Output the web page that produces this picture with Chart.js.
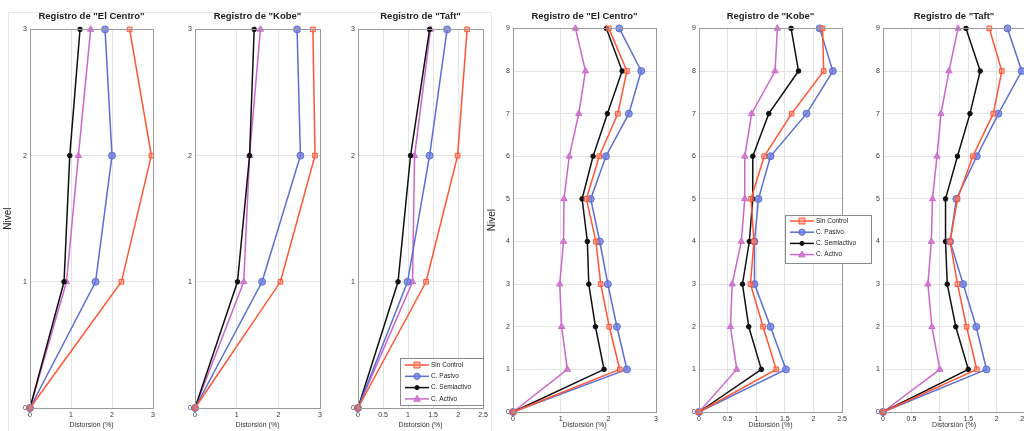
<!DOCTYPE html>
<html><head><meta charset="utf-8">
<script src="https://cdn.jsdelivr.net/npm/chart.js@4/dist/chart.umd.min.js"></script>
<style>
html,body{margin:0;padding:0;background:#fff;width:1024px;height:431px;overflow:hidden;position:relative;}
canvas{position:absolute;top:0;}
.frame{position:absolute;border:1px solid #e2e7f0;}
</style></head><body>
<div class="frame" style="left:8px;top:12px;width:482px;height:430px;"></div>
<canvas id="c1"></canvas><canvas id="c2"></canvas><canvas id="c3"></canvas>
<canvas id="c4"></canvas><canvas id="c5"></canvas><canvas id="c6"></canvas>
<script>
// ---------- DATA ----------
const seriesNames = ['Sin Control', 'C. Pasivo', 'C. Semiactivo', 'C. Activo'];
const titles = ['Registro de "El Centro"', 'Registro de "Kobe"', 'Registro de "Taft"'];
const levels3 = [0, 1, 2, 3];
const levels9 = [0, 1, 2, 3, 4, 5, 6, 7, 8, 9];
const xTicksInt = [0, 1, 2, 3];
const xTicksHalf = [0, 0.5, 1, 1.5, 2, 2.5];
const yTicks3 = [0, 1, 2, 3];
const yTicks9 = [0, 1, 2, 3, 4, 5, 6, 7, 8, 9];

// 3-level structure
const elCentro3_sinControl = [0, 2.23, 2.96, 2.43];
const elCentro3_pasivo     = [0, 1.60, 2.00, 1.83];
const elCentro3_semiactivo = [0, 0.83, 0.97, 1.22];
const elCentro3_activo     = [0, 0.89, 1.18, 1.48];

const kobe3_sinControl = [0, 2.05, 2.88, 2.83];
const kobe3_pasivo     = [0, 1.61, 2.53, 2.45];
const kobe3_semiactivo = [0, 1.02, 1.31, 1.42];
const kobe3_activo     = [0, 1.17, 1.31, 1.57];

const taft3_sinControl = [0, 1.36, 1.99, 2.18];
const taft3_pasivo     = [0, 0.99, 1.43, 1.78];
const taft3_semiactivo = [0, 0.80, 1.05, 1.43];
const taft3_activo     = [0, 1.09, 1.13, 1.45];

// 9-level structure
const elCentro9_sinControl = [0, 2.24, 2.02, 1.84, 1.74, 1.54, 1.81, 2.20, 2.39, 2.01];
const elCentro9_pasivo     = [0, 2.39, 2.18, 1.99, 1.82, 1.63, 1.95, 2.43, 2.69, 2.23];
const elCentro9_semiactivo = [0, 1.91, 1.73, 1.59, 1.56, 1.45, 1.68, 1.98, 2.29, 1.96];
const elCentro9_activo     = [0, 1.14, 1.02, 0.98, 1.06, 1.07, 1.18, 1.38, 1.52, 1.31];

const kobe9_sinControl = [0, 1.35, 1.12, 0.90, 0.96, 0.91, 1.14, 1.62, 2.18, 2.16];
const kobe9_pasivo     = [0, 1.52, 1.25, 0.97, 0.97, 1.04, 1.25, 1.88, 2.34, 2.11];
const kobe9_semiactivo = [0, 1.09, 0.87, 0.76, 0.88, 0.94, 0.94, 1.22, 1.74, 1.61];
const kobe9_activo     = [0, 0.66, 0.55, 0.58, 0.74, 0.80, 0.80, 0.92, 1.33, 1.37];

const taft9_sinControl = [0, 1.65, 1.47, 1.31, 1.18, 1.31, 1.58, 1.94, 2.09, 1.87];
const taft9_pasivo     = [0, 1.82, 1.64, 1.41, 1.18, 1.29, 1.65, 2.03, 2.44, 2.19];
const taft9_semiactivo = [0, 1.50, 1.28, 1.13, 1.10, 1.10, 1.31, 1.53, 1.71, 1.46];
const taft9_activo     = [0, 1.00, 0.86, 0.79, 0.85, 0.87, 0.95, 1.02, 1.16, 1.32];

// ---------- STYLES ----------
const seriesStyles = [
  { borderColor: '#ff5533', pointStyle: 'rect', pointRadius: 3.3, pointBackgroundColor: 'rgba(255,140,120,0.55)', pointBorderColor: '#ff5533' },
  { borderColor: '#5a6ed4', pointStyle: 'circle', pointRadius: 3.5, pointBackgroundColor: 'rgba(110,125,220,0.8)', pointBorderColor: '#5a6ed4' },
  { borderColor: '#111111', pointStyle: 'circle', pointRadius: 2.3, pointBackgroundColor: '#111111', pointBorderColor: '#111111' },
  { borderColor: '#cc66cc', pointStyle: 'triangle', pointRadius: 3.6, pointBackgroundColor: 'rgba(210,120,210,0.9)', pointBorderColor: '#cc66cc' }
];
const FONT = 'Liberation Sans, Arial, sans-serif';

// box around the axes (MATLAB "box on") + inner legend
const boxPlugin = {
  id: 'boxAndLegend',
  afterDatasetsDraw(chart, args, opts) {
    const ctx = chart.ctx, a = chart.chartArea;
    ctx.save();
    ctx.strokeStyle = '#9a9a9a'; ctx.lineWidth = 1;
    ctx.strokeRect(Math.round(a.left) + 0.5, Math.round(a.top) + 0.5, Math.round(a.right - a.left), Math.round(a.bottom - a.top));
    ctx.restore();
  },
  afterDraw(chart, args, opts) {
    if (!opts || !opts.box) return;
    const ctx = chart.ctx, b = opts.box;
    ctx.save();
    ctx.fillStyle = '#fff'; ctx.fillRect(b.x, b.y, b.w, b.h);
    ctx.strokeStyle = '#8a8a8a'; ctx.lineWidth = 1;
    ctx.strokeRect(b.x + 0.5, b.y + 0.5, b.w, b.h);
    ctx.font = '6.5px ' + FONT; ctx.textBaseline = 'middle'; ctx.fillStyle = '#222';
    chart.data.datasets.forEach((d, i) => {
      const y = b.y + b.first + i * b.step;
      ctx.strokeStyle = d.borderColor; ctx.lineWidth = 1.5;
      ctx.beginPath(); ctx.moveTo(b.x + 5, y); ctx.lineTo(b.x + 29, y); ctx.stroke();
      const cx = b.x + 17, r = d.pointRadius * 0.9;
      ctx.fillStyle = d.pointBackgroundColor; ctx.strokeStyle = d.pointBorderColor; ctx.lineWidth = 1;
      ctx.beginPath();
      if (d.pointStyle === 'rect') ctx.rect(cx - r, y - r, 2 * r, 2 * r);
      else if (d.pointStyle === 'triangle') { ctx.moveTo(cx, y - r * 1.1); ctx.lineTo(cx + r, y + r * 0.7); ctx.lineTo(cx - r, y + r * 0.7); ctx.closePath(); }
      else ctx.arc(cx, y, r, 0, Math.PI * 2);
      ctx.fill(); ctx.stroke();
      ctx.fillStyle = '#222';
      ctx.fillText(d.label, b.x + 31, y);
    });
    ctx.restore();
  }
};

function makeChart(cfg) {
  const el = document.getElementById(cfg.id);
  el.width = cfg.w; el.height = 431;
  el.style.left = cfg.left + 'px';
  el.style.width = cfg.w + 'px'; el.style.height = '431px';
  const datasets = cfg.series.map((vals, i) => Object.assign({
    label: seriesNames[i],
    data: vals.map((v, k) => ({ x: v, y: cfg.levels[k] })),
    borderWidth: 1.5, pointBorderWidth: 1, tension: 0, clip: false, fill: false
  }, seriesStyles[i]));
  return new Chart(el, {
    type: 'line',
    data: { datasets },
    plugins: [boxPlugin],
    options: {
      responsive: false, animation: false, devicePixelRatio: 1,
      layout: { padding: { left: 0, right: cfg.padRight, top: 0, bottom: 0 } },
      plugins: {
        legend: { display: false }, tooltip: { enabled: false },
        title: { display: true, text: cfg.title, fullSize: false, color: '#222',
          font: { family: FONT, size: 9.5, weight: 'bold' }, padding: { top: 11, bottom: cfg.titleBottom } },
        boxAndLegend: { box: cfg.legend || null }
      },
      scales: {
        x: { type: 'linear', min: 0, max: cfg.xTicks[cfg.xTicks.length - 1],
          afterFit: s => { s.height = cfg.xH; },
          afterBuildTicks: s => { s.ticks = cfg.xTicks.map(v => ({ value: v })); },
          grid: { color: '#e3e3e3', drawTicks: false },
          border: { display: false },
          ticks: { padding: 3, color: '#333', font: { family: FONT, size: 7 }, maxRotation: 0, autoSkip: false,
            callback: v => String(v) },
          title: { display: true, text: 'Distorsión (%)', color: '#333', font: { family: FONT, size: 7 }, padding: { top: 0, bottom: 2 } } },
        y: { type: 'linear', min: 0, max: cfg.yTicks[cfg.yTicks.length - 1],
          afterFit: s => { s.width = cfg.yW; },
          afterBuildTicks: s => { s.ticks = cfg.yTicks.map(v => ({ value: v })); },
          grid: { color: '#e3e3e3', drawTicks: false },
          border: { display: false },
          ticks: { padding: 3, color: '#333', font: { family: FONT, size: 7 }, autoSkip: false,
            callback: v => String(v) },
          title: { display: !!cfg.yTitle, text: 'Nivel', color: '#222', font: { family: FONT, size: 10 }, padding: { top: cfg.yTitlePad || 2, bottom: 0 } } }
      }
    }
  });
}

makeChart({ id: 'c1', left: 0, w: 160, yW: 30, padRight: 7, xH: 23, titleBottom: 7, title: titles[0],
  levels: levels3, xTicks: xTicksInt, yTicks: yTicks3, yTitle: true, yTitlePad: 2,
  series: [elCentro3_sinControl, elCentro3_pasivo, elCentro3_semiactivo, elCentro3_activo] });
makeChart({ id: 'c2', left: 165, w: 162, yW: 30, padRight: 7, xH: 23, titleBottom: 7, title: titles[1],
  levels: levels3, xTicks: xTicksInt, yTicks: yTicks3,
  series: [kobe3_sinControl, kobe3_pasivo, kobe3_semiactivo, kobe3_activo] });
makeChart({ id: 'c3', left: 328, w: 163, yW: 30, padRight: 7, xH: 23, titleBottom: 7, title: titles[2],
  levels: levels3, xTicks: xTicksHalf, yTicks: yTicks3,
  legend: { x: 72, y: 358, w: 83, h: 47, first: 7, step: 11.3 },
  series: [taft3_sinControl, taft3_pasivo, taft3_semiactivo, taft3_activo] });
makeChart({ id: 'c4', left: 483, w: 180, yW: 30, padRight: 7, xH: 19, titleBottom: 6, title: titles[0],
  levels: levels9, xTicks: xTicksInt, yTicks: yTicks9, yTitle: true, yTitlePad: 3,
  series: [elCentro9_sinControl, elCentro9_pasivo, elCentro9_semiactivo, elCentro9_activo] });
makeChart({ id: 'c5', left: 669, w: 210, yW: 30, padRight: 37, xH: 19, titleBottom: 6, title: titles[1],
  levels: levels9, xTicks: xTicksHalf, yTicks: yTicks9,
  legend: { x: 116, y: 215, w: 86, h: 48, first: 6, step: 11.2 },
  series: [kobe9_sinControl, kobe9_pasivo, kobe9_semiactivo, kobe9_activo] });
makeChart({ id: 'c6', left: 853, w: 180, yW: 30, padRight: 7, xH: 19, titleBottom: 6, title: titles[2],
  levels: levels9, xTicks: xTicksHalf, yTicks: yTicks9,
  series: [taft9_sinControl, taft9_pasivo, taft9_semiactivo, taft9_activo] });
</script>
</body></html>
